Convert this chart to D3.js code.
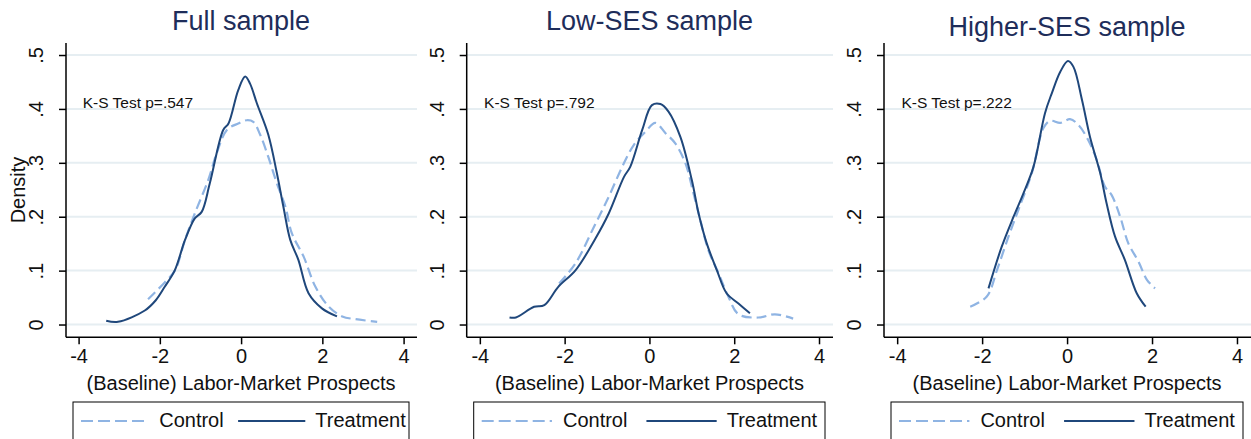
<!DOCTYPE html>
<html>
<head>
<meta charset="utf-8">
<script src="https://cdn.jsdelivr.net/npm/d3@7"></script>
<style>
body { margin: 0; background: #fff; }
svg { display: block; }
text { font-family: "Liberation Sans", Arial, Helvetica, sans-serif; }
</style>
</head>
<body>
<svg width="1251" height="439"></svg>
<script>
// values
var panelTitles = ['Full sample', 'Low-SES sample', 'Higher-SES sample'];
var ksLabels = ['K-S Test p=.547', 'K-S Test p=.792', 'K-S Test p=.222'];
var seriesNames = ['Control', 'Treatment'];
var xTicks = [-4, -2, 0, 2, 4];
var yTicks = [0, 0.1, 0.2, 0.3, 0.4, 0.5];
var yTickLabels = ['0', '.1', '.2', '.3', '.4', '.5'];

var fullControl = [[-2.29,.047],[-1.88,.078],[-1.63,.100],[-1.38,.157],[-1.14,.206],[-0.81,.268],[-0.60,.318],[-0.35,.361],[-0.07,.373],[0.14,.379],[0.30,.376],[0.47,.352],[0.67,.311],[0.88,.262],[1.09,.219],[1.25,.169],[1.54,.126],[1.83,.070],[2.16,.033],[2.49,.015],[2.81,.010],[3.35,.005]];
var fullTreatment = [[-3.32,.007],[-3.03,.005],[-2.37,.026],[-2.10,.045],[-1.88,.070],[-1.63,.101],[-1.38,.157],[-1.14,.197],[-0.97,.209],[-0.77,.262],[-0.44,.361],[-0.31,.373],[-0.07,.435],[0.10,.460],[0.22,.447],[0.39,.410],[0.67,.352],[0.88,.281],[1.04,.219],[1.21,.157],[1.41,.120],[1.66,.058],[1.99,.030],[2.36,.015]];

var lowControl = [[-2.13,.076],[-1.74,.114],[-1.31,.181],[-0.96,.237],[-0.64,.293],[-0.37,.333],[-0.09,.358],[0.14,.374],[0.38,.355],[0.61,.336],[0.85,.299],[1.04,.243],[1.20,.194],[1.39,.138],[1.63,.095],[1.86,.052],[2.10,.019],[2.57,.013],[2.96,.019],[3.39,.011]];
var lowTreatment = [[-3.30,.013],[-3.15,.013],[-2.72,.033],[-2.48,.036],[-2.15,.070],[-1.74,.101],[-1.27,.160],[-0.96,.206],[-0.60,.274],[-0.45,.293],[-0.17,.361],[0.06,.407],[0.26,.409],[0.45,.395],[0.73,.348],[1.00,.268],[1.16,.206],[1.35,.151],[1.59,.101],[1.82,.058],[2.10,.039],[2.37,.021]];

var highControl = [[-2.28,.033],[-1.89,.052],[-1.65,.101],[-1.38,.163],[-1.15,.212],[-0.83,.281],[-0.56,.364],[-0.40,.378],[-0.16,.374],[0.07,.381],[0.27,.370],[0.50,.342],[0.70,.305],[0.89,.256],[1.05,.240],[1.25,.200],[1.44,.151],[1.68,.117],[1.88,.083],[2.07,.067]];
var highTreatment = [[-1.85,.067],[-1.54,.144],[-1.26,.200],[-1.03,.243],[-0.79,.293],[-0.52,.392],[-0.36,.429],[-0.16,.469],[0.02,.489],[0.15,.478],[0.35,.417],[0.54,.348],[0.78,.281],[0.93,.225],[1.13,.163],[1.36,.120],[1.64,.058],[1.85,.033]];

var controlData = [fullControl, lowControl, highControl];
var treatmentData = [fullTreatment, lowTreatment, highTreatment];

// layout
var panels = [
    { left: 66, right: 417, titleY: 30 },
    { left: 466.7, right: 833, titleY: 30 },
    { left: 884, right: 1251, titleY: 36 }
];
var plotTop = 43, plotBottom = 337.3;
var navy = '#1f477b', light = '#8fb4e3', grid = '#e6eef2', titleCol = '#1e2d5a';

var svg = d3.select('svg');
var y = d3.scaleLinear().domain([-0.0237, 0.5223]).range([plotBottom, plotTop]);

panels.forEach(function (p, i) {
    var x = d3.scaleLinear().domain([-4.31, 4.33]).range([p.left, p.right]);
    var g = svg.append('g');

    // grid
    g.selectAll('.grid').data(yTicks).enter().append('line')
        .attr('x1', p.left).attr('x2', p.right)
        .attr('y1', function (d) { return y(d); }).attr('y2', function (d) { return y(d); })
        .attr('stroke', grid).attr('stroke-width', 2);

    // y axis
    var ya = g.append('g').attr('transform', 'translate(' + p.left + ',0)')
        .call(d3.axisLeft(y).tickValues(yTicks).tickSize(7).tickFormat(function (d, k) { return yTickLabels[k]; }));
    ya.select('.domain').attr('d', 'M0,' + plotTop + 'V' + plotBottom).attr('stroke', '#000').attr('stroke-width', 1.5);
    ya.selectAll('.tick line').attr('stroke', '#000').attr('stroke-width', 1.5);
    ya.selectAll('.tick text')
        .attr('x', null).attr('dy', null)
        .attr('transform', 'translate(-23,0) rotate(-90)')
        .attr('text-anchor', 'middle')
        .style('font-size', '20px').attr('fill', '#111');

    // x axis
    var xa = g.append('g').attr('transform', 'translate(0,' + plotBottom + ')')
        .call(d3.axisBottom(x).tickValues(xTicks).tickSize(7).tickFormat(function (d) { return d < 0 ? '-' + Math.abs(d) : String(d); }));
    xa.select('.domain').attr('d', 'M' + p.left + ',0H' + p.right).attr('stroke', '#000').attr('stroke-width', 1.5);
    xa.selectAll('.tick line').attr('stroke', '#000').attr('stroke-width', 1.5);
    xa.selectAll('.tick text').attr('y', 25.5).attr('dy', null)
        .style('font-size', '20px').attr('fill', '#111');

    // title and texts
    var cx = x(0);
    svg.append('text').attr('x', cx).attr('y', p.titleY).attr('text-anchor', 'middle')
        .style('font-size', '27px').attr('fill', titleCol).text(panelTitles[i]);

    svg.append('text').attr('x', cx).attr('y', 390).attr('text-anchor', 'middle')
        .style('font-size', '20px').attr('fill', '#111').text('(Baseline) Labor-Market Prospects');

    svg.append('text').attr('x', x(-3.9)).attr('y', 107.5)
        .style('font-size', '15.5px').attr('fill', '#111').text(ksLabels[i]);

    // curves
    var line = d3.line()
        .x(function (d) { return x(d[0]); })
        .y(function (d) { return y(d[1]); })
        .curve(d3.curveCatmullRom.alpha(0.5));

    g.append('path').datum(controlData[i]).attr('d', line)
        .attr('fill', 'none').attr('stroke', light).attr('stroke-width', 2.2)
        .attr('stroke-dasharray', '10,5');
    g.append('path').datum(treatmentData[i]).attr('d', line)
        .attr('fill', 'none').attr('stroke', navy).attr('stroke-width', 2);

    // legend
    var bx = p.left + 7, bw = p.right - 8 - bx;
    var len = bw * 0.2;
    var lg = svg.append('g');
    lg.append('rect').attr('x', bx).attr('y', 402).attr('width', bw).attr('height', 60)
        .attr('fill', '#fff').attr('stroke', '#000').attr('stroke-width', 1);
    lg.append('line').attr('x1', bx + 8).attr('x2', bx + 8 + len).attr('y1', 421).attr('y2', 421)
        .attr('stroke', light).attr('stroke-width', 2.2).attr('stroke-dasharray', '12,5');
    lg.append('text').attr('x', bx + 8 + len + 11).attr('y', 427)
        .style('font-size', '20px').attr('fill', '#111').text(seriesNames[0]);
    lg.append('line').attr('x1', cx - 3).attr('x2', cx - 3 + len).attr('y1', 421).attr('y2', 421)
        .attr('stroke', navy).attr('stroke-width', 2);
    lg.append('text').attr('x', cx - 3 + len + 10).attr('y', 427)
        .style('font-size', '20px').attr('fill', '#111').text(seriesNames[1]);
});

svg.append('text').attr('transform', 'translate(25,190) rotate(-90)').attr('text-anchor', 'middle')
    .style('font-size', '20px').attr('fill', '#111').text('Density');
</script>
</body>
</html>
